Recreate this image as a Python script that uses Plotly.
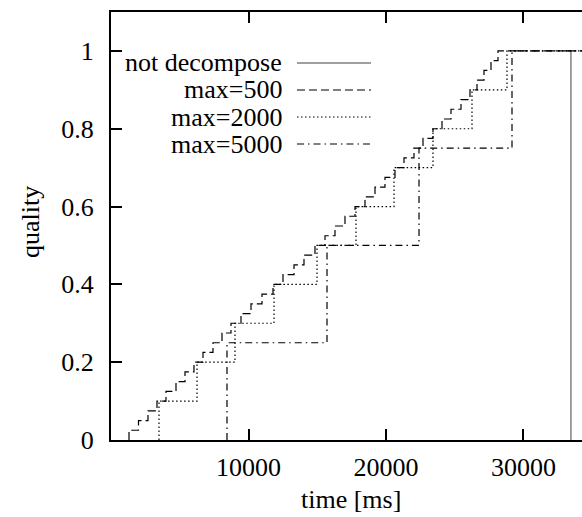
import plotly.graph_objects as go

# ---- data ----
# not decompose: single jump
nd_time = [33450, 33450]
nd_quality = [0, 1]

# max=500: fine staircase, steps of 0.025
m500_time = [1310, 1310, 2000, 2690, 3345,
             4000, 4727, 5382, 6036,
             6691, 7418, 8073, 8727,
             9455, 10182, 10982, 11782,
             12509, 13309, 14036, 14836,
             15564, 16291, 17018, 17745,
             18473, 19200, 19927, 20655,
             21309, 22036, 22691, 23418,
             24073, 24727, 25455, 26109,
             26618, 27127, 27636, 28145, 35000]
m500_quality = [0, 0.025, 0.05, 0.075, 0.1,
                0.125, 0.15, 0.175, 0.2,
                0.225, 0.25, 0.275, 0.3,
                0.325, 0.35, 0.375, 0.4,
                0.425, 0.45, 0.475, 0.5,
                0.525, 0.55, 0.575, 0.6,
                0.625, 0.65, 0.675, 0.7,
                0.725, 0.75, 0.775, 0.8,
                0.825, 0.85, 0.875, 0.9,
                0.925, 0.95, 0.975, 1.0, 1.0]

# max=2000: steps of 0.1
m2000_time = [3491, 3491, 6255, 9018, 11855, 14982, 17818, 20582, 23418, 26255, 28800, 35000]
m2000_quality = [0, 0.1, 0.2, 0.3, 0.4, 0.5, 0.6, 0.7, 0.8, 0.9, 1.0, 1.0]

# max=5000: steps of 0.25
m5000_time = [8436, 8436, 15709, 22400, 29164, 35000]
m5000_quality = [0, 0.25, 0.5, 0.75, 1.0, 1.0]

series_names = ["not decompose", "max=500", "max=2000", "max=5000"]
x_ticks = [10000, 20000, 30000]
x_tick_labels = ["10000", "20000", "30000"]
y_ticks = [0, 0.2, 0.4, 0.6, 0.8, 1]
y_tick_labels = ["0", "0.2", "0.4", "0.6", "0.8", "1"]

FONT = "Liberation Serif"
FS = 26
styles = [
    dict(color="#808080", width=1.5, dash="solid"),
    dict(color="black", width=1.2, dash="8px,4px"),
    dict(color="black", width=1.2, dash="1.5px,2.5px"),
    dict(color="black", width=1.2, dash="7px,4px,1.5px,4px"),
]

fig = go.Figure()
for t, q, name, st in zip([nd_time, m500_time, m2000_time, m5000_time],
                          [nd_quality, m500_quality, m2000_quality, m5000_quality],
                          series_names, styles):
    fig.add_trace(go.Scatter(x=t, y=q, mode="lines", name=name,
                             line=dict(shape="hv", **st), showlegend=False))

# gnuplot-style key (text right-aligned, sample line on the right)
W_PLOT = 471.0
H_PLOT = 428.0
key_rows_px = [63, 90, 117, 144]
for name, st, ypx in zip(series_names, styles, key_rows_px):
    yp = (440 - ypx) / H_PLOT
    fig.add_annotation(x=(283 - 111) / W_PLOT, y=yp, xref="paper", yref="paper",
                       text=name, showarrow=False, xanchor="right", yanchor="middle",
                       borderpad=0,
                       font=dict(family=FONT, size=FS, color="black"))
    fig.add_shape(type="line", xref="paper", yref="paper",
                  x0=(297 - 111) / W_PLOT, x1=(371 - 111) / W_PLOT, y0=yp, y1=yp,
                  line=dict(color=st["color"], width=st["width"], dash=st["dash"]))

# axis titles
fig.add_annotation(x=(351 - 111) / W_PLOT, y=(440 - 500) / H_PLOT, xref="paper", yref="paper",
                   text="time [ms]", showarrow=False, xanchor="center", yanchor="middle",
                   font=dict(family=FONT, size=FS, color="black"))
fig.add_annotation(x=(30 - 111) / W_PLOT, y=(440 - 222) / H_PLOT, xref="paper", yref="paper",
                   text="quality", showarrow=False, textangle=-90, xanchor="center", yanchor="middle",
                   font=dict(family=FONT, size=FS, color="black"))

fig.update_layout(
    width=582, height=517,
    margin=dict(l=111, r=0, t=12, b=77),
    paper_bgcolor="white", plot_bgcolor="white",
    font=dict(family=FONT, size=FS, color="black"),
    xaxis=dict(range=[0, 34255], tickvals=x_ticks, ticktext=x_tick_labels,
               tickfont=dict(family=FONT, size=FS, color="black"),
               showgrid=False, zeroline=False, showline=True, linecolor="black", linewidth=2,
               mirror="allticks", ticks="inside", ticklen=11, tickwidth=2, tickcolor="black",
               ticklabelstandoff=3),
    yaxis=dict(range=[0, 1.1], tickvals=y_ticks, ticktext=y_tick_labels,
               tickfont=dict(family=FONT, size=FS, color="black"),
               showgrid=False, zeroline=False, showline=True, linecolor="black", linewidth=2,
               ticks="inside", ticklen=11, tickwidth=2, tickcolor="black",
               ticklabelstandoff=10),
)

fig.write_html("out.html")
